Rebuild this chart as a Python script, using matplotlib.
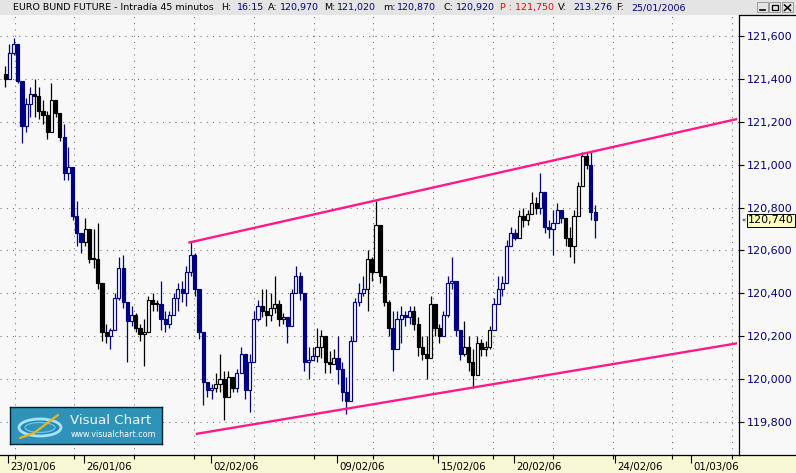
import matplotlib

matplotlib.use("Agg")
import matplotlib.pyplot as plt
import matplotlib.transforms as mtransforms
from matplotlib.lines import Line2D
from matplotlib.patches import Ellipse, Rectangle
import numpy as np

W, H = 796, 473

# ---- data --------------------------------------------------------------
# bars start at trading day -0.125 (day 0 = 23/01/06), 6 bars per trading day
FIRST_DAY = -0.125
BARS_PER_DAY = 6
first_open = 121420

highs = [
    121460, 121560, 121590, 121520, 121340, 121310, 121360, 121400, 121360, 121300,
    121250, 121380, 121270, 121210, 121190, 121080, 120920, 120830, 120680, 120750,
    120680, 120700, 120730, 120420, 120260, 120240, 120400, 120570, 120580, 120340,
    120340, 120310, 120260, 120280, 120390, 120400, 120370, 120460, 120320, 120320,
    120400, 120450, 120460, 120530, 120640, 120590, 120370, 120220, 119970, 119980,
    120030, 120120, 120040, 120040, 119980, 120050, 120150, 120120, 120120, 120320,
    120370, 120420, 120420, 120400, 120480, 120370, 120310, 120280, 120420, 120530,
    120500, 120400, 120150, 120150, 120240, 120230, 120170, 120130, 120140, 120200,
    120080, 120010, 120200, 120380, 120450, 120480, 120600, 120570, 120830, 120660,
    120450, 120370, 120320, 120320, 120340, 120320, 120340, 120340, 120290, 120200,
    120200, 120390, 120290, 120260, 120320, 120480, 120570, 120450, 120200, 120270,
    120200, 120140, 120200, 120190, 120180, 120250, 120380, 120480, 120480, 120650,
    120710, 120700, 120790, 120800, 120790, 120870, 120850, 120960, 120800, 120740,
    120790, 120820, 120790, 120730, 120710, 120790, 120920, 121060, 121060, 121060,
    120810,
]
lows = [
    121360, 121470, 121510, 121380, 121100, 121150, 121220, 121220, 121210, 121190,
    121120, 121210, 121220, 121110, 120930, 120930, 120740, 120620, 120590, 120620,
    120540, 120520, 120420, 120180, 120170, 120140, 120310, 120370, 120330, 120080,
    120250, 120220, 120180, 120060, 120310, 120320, 120320, 120230, 120220, 120240,
    120310, 120320, 120360, 120340, 120480, 120390, 120190, 119880, 119920, 119910,
    119940, 119940, 119810, 119940, 119940, 119940, 120050, 119910, 119850, 120090,
    120270, 120290, 120250, 120270, 120310, 120250, 120260, 120170, 120270, 120400,
    120370, 120040, 120000, 120090, 120080, 120100, 120030, 120030, 120070, 119980,
    119900, 119840, 119910, 120230, 120340, 120390, 120320, 120460, 120630, 120450,
    120340, 120200, 120040, 120140, 120170, 120250, 120260, 120230, 120110, 120090,
    120000, 120200, 120200, 120170, 120200, 120290, 120420, 120200, 120090, 120110,
    120040, 119960, 120080, 120110, 120110, 120140, 120280, 120360, 120390, 120550,
    120620, 120650, 120710, 120710, 120720, 120790, 120770, 120770, 120680, 120660,
    120580, 120740, 120730, 120620, 120570, 120540, 120800, 120920, 120980, 120740,
    120660,
]
closes = [
    121400, 121520, 121560, 121390, 121180, 121280, 121330, 121320, 121250, 121230,
    121150, 121300, 121240, 121130, 120960, 120990, 120760, 120680, 120640, 120700,
    120560, 120560, 120450, 120220, 120200, 120230, 120380, 120520, 120360, 120270,
    120300, 120240, 120210, 120220, 120370, 120350, 120350, 120280, 120260, 120300,
    120380, 120420, 120400, 120500, 120580, 120420, 120220, 119990, 119950, 119960,
    119980, 120000, 119920, 120010, 119960, 120030, 120120, 119950, 120080, 120280,
    120340, 120320, 120300, 120330, 120350, 120280, 120290, 120250, 120400, 120480,
    120400, 120080, 120090, 120110, 120150, 120200, 120080, 120070, 120100, 120050,
    119940, 119900, 120180, 120360, 120400, 120420, 120560, 120500, 120720, 120480,
    120360, 120240, 120140, 120280, 120300, 120290, 120320, 120260, 120150, 120120,
    120100, 120350, 120240, 120200, 120300, 120450, 120460, 120230, 120120, 120150,
    120080, 120020, 120170, 120140, 120150, 120230, 120350, 120420, 120450, 120620,
    120680, 120660, 120760, 120740, 120770, 120820, 120800, 120870, 120710, 120700,
    120730, 120790, 120750, 120660, 120620, 120760, 120900, 121040, 121000, 120780,
    120740,
]
# colour state of the bars, as runs of (state, number of bars)
state_runs = [
    ("k", 1), ("b", 6), ("k", 7), ("b", 5), ("k", 6), ("b", 6), ("k", 6), ("b", 13),
    ("k", 5), ("b", 6), ("k", 6), ("b", 7), ("k", 5), ("b", 7), ("k", 6), ("b", 5),
    ("k", 7), ("b", 5), ("k", 7), ("b", 6), ("k", 5), ("b", 6), ("k", 6), ("b", 2),
]

price_ticks = [119800, 120000, 120200, 120400, 120600, 120800, 121000, 121200, 121400, 121600]
date_days = [0, 3, 8, 13, 17, 20, 24, 27]
date_labels = ["23/01/06", "26/01/06", "02/02/06", "09/02/06", "15/02/06", "20/02/06", "24/02/06", "01/03/06"]

upper_days = [7.12, 28.83]
upper_prices = [120636, 121212]
lower_days = [7.42, 28.83]
lower_prices = [119746, 120168]
last_price = 120740

title_parts = [
    ("EURO BUND FUTURE - Intradía 45 minutos", "label"), ("H:", "label"), ("16:15", "value"),
    ("A:", "label"), ("120,970", "value"), ("M:", "label"), ("121,020", "value"),
    ("m:", "label"), ("120,870", "value"), ("C:", "label"), ("120,920", "value"),
    ("P : 121,750", "alert"), ("V:", "label"), ("213.276", "value"), ("F:", "label"),
    ("25/01/2006", "value"),
]
title_x = [13, 221, 237, 268, 280, 324, 337, 383, 397, 443, 456, 500, 558, 573, 616, 631]

# ---- styling -------------------------------------------------------------
PLOT_BG = "#f8f8f8"
STRIP_BG = "#f8f8d4"
TITLE_BG = "#e4e4e4"
NAVY = "#000080"
PINK = "#ff1a8c"
STATE_COLORS = {"k": "#000000", "b": NAVY}
TITLE_COLORS = {"label": "#000000", "value": NAVY, "alert": "#ff0000"}
GRID = dict(color="#707070", linewidth=0.75, linestyle=(0, (1, 5)))


def main() -> None:
    fig = plt.figure(figsize=(W / 100, H / 100), dpi=100, facecolor=PLOT_BG)
    fig.add_artist(Rectangle((0, 0), 1, 18 / H, transform=fig.transFigure,
                             facecolor=STRIP_BG, edgecolor="none", zorder=0))

    ax = fig.add_axes([0, 18 / H, 739 / W, 440 / H])
    ax.set_facecolor(PLOT_BG)
    ax.set_xlim(-0.328, 28.90)
    ax.set_ylim(119648, 121696)
    ax.set_axisbelow(True)

    # grid: vertical lines on a fixed pixel pitch, horizontal on price ticks
    grid_days = 0.253 + 2.3647 * np.arange(13)
    for d in grid_days:
        ax.axvline(d, zorder=0.5, **GRID)
    for p in price_ticks:
        ax.axhline(p, zorder=0.5, **GRID)

    # candles
    n = len(closes)
    xs = FIRST_DAY + np.arange(n) / BARS_PER_DAY
    opens = np.array([first_open] + closes[:-1])
    c = np.array(closes)
    states = [s for s, k in state_runs for _ in range(k)]
    cols = [STATE_COLORS[s] for s in states]
    faces = [PLOT_BG if cl > op else col for cl, op, col in zip(c, opens, cols)]
    ax.vlines(xs, lows, highs, colors=cols, linewidth=0.9, zorder=2)
    bottoms = np.minimum(opens, c)
    heights = np.maximum(np.abs(c - opens), 4)
    ax.bar(xs, heights, bottom=bottoms, width=0.75 / BARS_PER_DAY, color=faces,
           edgecolor=cols, linewidth=0.85, zorder=3)

    # channel lines
    ax.plot(upper_days, upper_prices, color=PINK, linewidth=1.7, zorder=4, solid_capstyle="butt")
    ax.plot(lower_days, lower_prices, color=PINK, linewidth=1.7, zorder=4, solid_capstyle="butt")

    # spines / ticks
    for side in ("top", "left"):
        ax.spines[side].set_visible(False)
    for side in ("right", "bottom"):
        ax.spines[side].set_color("black")
        ax.spines[side].set_linewidth(0.9)
    ax.yaxis.tick_right()
    ax.set_yticks(price_ticks)
    ax.set_yticklabels([f"{p:,}" for p in price_ticks])
    ax.tick_params(axis="y", length=3.8, width=0.8, pad=1.5, labelsize=8, labelcolor=NAVY)
    ax.set_xticks(date_days)
    ax.set_xticks(grid_days, minor=True)
    ax.tick_params(axis="x", which="major", length=5.5, width=0.8, labelbottom=False)
    ax.tick_params(axis="x", which="minor", length=2.8, width=0.8)
    date_trans = mtransforms.blended_transform_factory(ax.transData, ax.transAxes) + \
        mtransforms.ScaledTranslation(2.5 / 100, -6.5 / 100, fig.dpi_scale_trans)
    for d, lab in zip(date_days, date_labels):
        ax.text(d, 0, lab, transform=date_trans, ha="left", va="top", fontsize=7.4, clip_on=False)

    # last price tag
    tag_trans = mtransforms.blended_transform_factory(ax.transAxes, ax.transData)
    ax.text(1.0, last_price, f"{last_price:,}", ha="left", va="center", fontsize=8, clip_on=False, zorder=10,
            transform=tag_trans + mtransforms.ScaledTranslation(9 / 100, 0, fig.dpi_scale_trans),
            bbox=dict(boxstyle="square,pad=0.12", facecolor="#ffffc0", edgecolor="black", linewidth=0.7))
    ax.text(1.0, last_price, "«", ha="left", va="center", fontsize=5, clip_on=False, zorder=10,
            transform=tag_trans + mtransforms.ScaledTranslation(2.5 / 100, 0, fig.dpi_scale_trans))

    # right panel top border and bottom rule
    fig.add_artist(Line2D([739 / W, 1], [458 / H, 458 / H], color="black", linewidth=0.9))
    fig.add_artist(Line2D([739 / W, 1], [18 / H, 18 / H], color="black", linewidth=0.9))

    # title bar
    at = fig.add_axes([0, 458 / H, 1, 15 / H])
    at.set_facecolor(TITLE_BG)
    at.set_xlim(0, W)
    at.set_ylim(15, 0)
    at.set_xticks([])
    at.set_yticks([])
    for s in at.spines.values():
        s.set_visible(False)
    for (txt, kind), x in zip(title_parts, title_x):
        at.text(x, 7.8, txt, color=TITLE_COLORS[kind], fontsize=6.8, ha="left", va="center")
    for bx in (757, 769, 782):
        at.add_patch(Rectangle((bx, 2.5), 11, 10, facecolor=TITLE_BG, edgecolor="#909090", linewidth=0.6))
    at.plot([760, 765], [10.5, 10.5], color="black", linewidth=1.2)
    at.add_patch(Rectangle((771.5, 5), 6, 5, facecolor="none", edgecolor="black", linewidth=0.9))
    at.plot([784.5, 790.5], [5, 10.5], color="black", linewidth=1.1)
    at.plot([784.5, 790.5], [10.5, 5], color="black", linewidth=1.1)

    # Visual Chart logo
    lg = fig.add_axes([10 / W, (H - 444) / H, 152 / W, 37 / H])
    lg.set_facecolor("#2f92b8")
    lg.set_xlim(0, 152)
    lg.set_ylim(37, 0)
    lg.set_xticks([])
    lg.set_yticks([])
    for s in lg.spines.values():
        s.set_color("#0a2030")
        s.set_linewidth(1.0)
    lg.add_patch(Ellipse((30, 20.5), 42, 17, facecolor="#2a86b0", edgecolor="#a8e4ff", linewidth=2.0))
    lg.add_patch(Ellipse((30, 20.5), 30, 10, facecolor="#2f92b8", edgecolor="#5ec4ef", linewidth=1.0))
    lg.plot([10, 24, 48], [31, 26, 8], color="#f2b418", linewidth=1.6, solid_capstyle="round")
    lg.text(60, 13.5, "Visual Chart", color="#eef8fc", fontsize=9.6, ha="left", va="center")
    lg.text(61, 27.5, "www.visualchart.com", color="white", fontsize=5.8, ha="left", va="center")

    fig.savefig("out.png", dpi=100, facecolor=fig.get_facecolor())
    plt.close(fig)


if __name__ == "__main__":
    main()
